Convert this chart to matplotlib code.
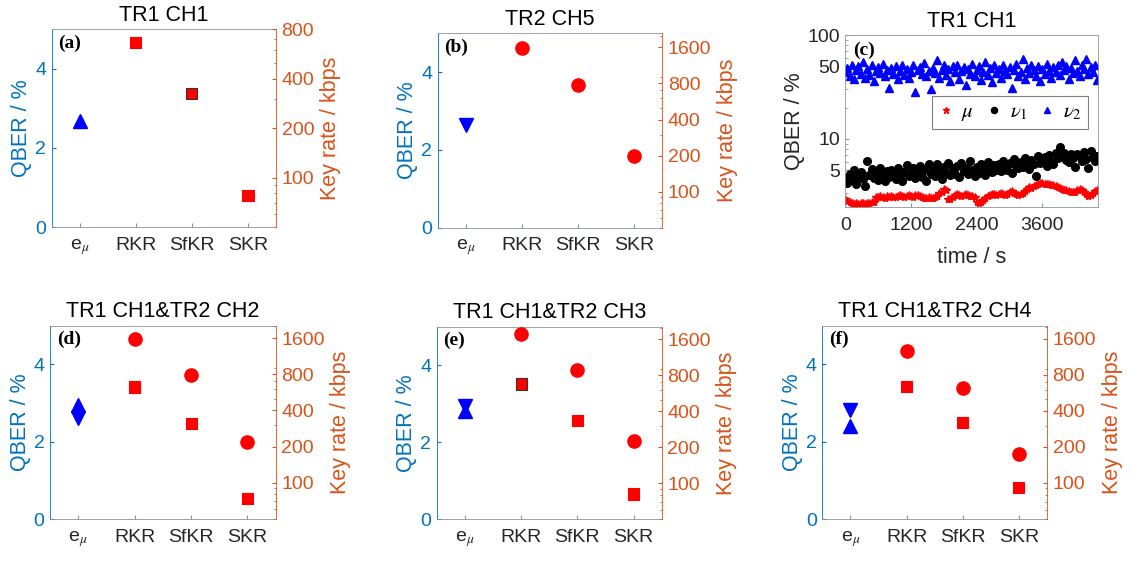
import numpy as np
import matplotlib.pyplot as plt
from matplotlib.ticker import NullFormatter, LogLocator

plt.rcParams['font.family'] = ['Liberation Sans', 'DejaVu Sans']
plt.rcParams['mathtext.fontset'] = 'stix'

BLUE = '#0072BD'
ORANGE = '#D95319'
GREY = '#262626'
BOXC = '#8a94a0'

# ---- category panels (a), (b), (d), (e), (f) ----
categories = ['e$_{\\mu}$', 'RKR', 'SfKR', 'SKR']
titles = ['TR1 CH1', 'TR2 CH5', 'TR1 CH1&TR2 CH2', 'TR1 CH1&TR2 CH3', 'TR1 CH1&TR2 CH4']
tags = ['(a)', '(b)', '(d)', '(e)', '(f)']
qber_tr1 = [2.67, np.nan, 2.95, 2.81, 2.40]   # up triangle
qber_tr2 = [np.nan, 2.65, 2.60, 2.93, 2.82]   # down triangle
rate_circle = [[np.nan, np.nan, np.nan], [1570, 780, 200], [1580, 791, 218],
               [1760, 880, 227], [1255, 622, 174]]
rate_square = [[664, 324, 78], [np.nan, np.nan, np.nan], [627, 314, 74],
               [675, 335, 81], [640, 321, 91]]
square_edge = [['r', '#333333', 'r'], ['r', 'r', 'r'], ['r', 'r', 'r'],
               ['#333333', 'r', 'r'], ['r', 'r', 'r']]
rate_ticks = [[100, 200, 400, 800], [100, 200, 400, 800, 1600], [100, 200, 400, 800, 1600],
              [100, 200, 400, 800, 1600], [100, 200, 400, 800, 1600]]
rate_top = [800, 2100, 2030, 2040, 2060]

# ---- panel (c): QBER vs time ----
t_sec = np.arange(0, 4601, 40)
qber_mu = [2.62, 2.55, 2.45, 2.4, 2.38, 2.42, 2.36, 2.4, 2.44, 2.38,
           2.42, 2.4, 2.45, 2.5, 2.78, 2.74, 2.8, 2.76, 2.72, 2.8,
           2.76, 2.82, 2.78, 2.74, 2.8, 2.86, 2.82, 2.78, 2.84, 2.88,
           2.82, 2.78, 2.86, 2.92, 2.84, 2.78, 2.72, 2.7, 2.76, 2.72,
           2.68, 2.74, 2.85, 3.0, 3.1, 3.3, 3.2, 2.62, 2.66, 2.76,
           2.86, 2.95, 2.9, 2.84, 2.92, 2.98, 2.88, 2.8, 2.84, 2.78,
           2.5, 2.4, 2.48, 2.6, 2.72, 2.82, 2.9, 2.98, 2.94, 2.9,
           2.96, 3.02, 2.94, 2.88, 2.98, 3.1, 3.15, 3.05, 2.95, 2.9,
           2.98, 3.05, 3.15, 3.3, 3.45, 3.4, 3.5, 3.6, 3.7, 3.75,
           3.8, 3.72, 3.66, 3.7, 3.62, 3.58, 3.5, 3.44, 3.38, 3.32,
           3.26, 3.2, 3.15, 3.12, 3.08, 3.1, 3.2, 3.28, 3.22, 3.1,
           2.95, 2.85, 2.9, 3.0, 3.15, 3.25]
qber_nu1 = [4.2, 3.8, 4.6, 4.0, 5.0, 3.7, 4.4, 4.8, 4.1, 3.5,
            6.2, 4.5, 5.1, 4.2, 4.7, 4.0, 5.3, 4.4, 3.9, 4.9,
            4.3, 5.0, 4.6, 4.1, 5.2, 4.5, 3.9, 4.8, 5.6, 4.4,
            4.7, 5.3, 4.2, 4.9, 5.5, 4.3, 5.0, 3.9, 5.7, 4.6,
            5.1, 4.4, 5.8, 4.8, 4.1, 5.4, 4.7, 5.9, 4.5, 5.2,
            4.6, 5.5, 4.3, 5.9, 4.9, 5.3, 4.6, 6.1, 5.0, 4.4,
            5.4, 4.7, 5.8, 5.1, 4.5, 6.0, 5.3, 4.8, 5.6, 5.0,
            5.7, 4.9, 6.2, 5.3, 5.0, 5.9, 4.7, 6.4, 5.5, 5.2,
            6.0, 5.4, 6.6, 5.7, 5.1, 6.3, 5.8, 4.4, 6.8, 5.9,
            6.1, 6.7, 5.5, 7.0, 6.2, 5.8, 7.3, 6.5, 8.3, 6.9,
            7.4, 6.3, 6.0, 7.1, 6.6, 5.4, 7.2, 6.8, 6.1, 7.5,
            6.4, 5.3, 7.6, 6.7, 6.2, 6.9]
qber_nu2 = [44, 48, 40, 52, 38, 46, 50, 42, 55, 39,
            47, 41, 51, 36, 45, 49, 43, 53, 40, 46,
            31, 48, 42, 50, 38, 45, 52, 41, 47, 39,
            44, 51, 28, 46, 49, 42, 54, 40, 45, 30,
            48, 43, 58, 39, 46, 51, 41, 47, 36, 50,
            44, 52, 38, 45, 49, 33, 47, 42, 53, 40,
            46, 50, 37, 44, 55, 41, 48, 35, 51, 43,
            47, 39, 52, 45, 42, 49, 31, 46, 53, 40,
            44, 59, 38, 48, 43, 51, 46, 40, 50, 36,
            47, 42, 53, 45, 39, 49, 44, 52, 41, 55,
            46, 50, 38, 48, 43, 57, 45, 40, 51, 47,
            59, 42, 49, 44, 52, 37]

W, H = 1132, 561
fig = plt.figure(figsize=(W / 100, H / 100), dpi=100)


def add_axes(l, t, r, b):
    return fig.add_axes([l / W, 1 - b / H, (r - l) / W, (b - t) / H])


boxes = [(51.7, 29.3, 276, 227), (437.7, 33.3, 662.3, 227.7),
         (50, 325.7, 275.7, 519), (436.7, 326.7, 661.7, 519), (822.3, 325.7, 1047, 519)]

x = np.arange(1, 5)
for i in range(5):
    ax = add_axes(*boxes[i])
    ax2 = ax.twinx()
    ax.set_xlim(0.5, 4.5)
    ax.set_ylim(0, 5)
    ax.set_yticks([0, 2, 4])
    ax.set_xticks(x, categories)
    ax.plot([1], [qber_tr1[i]], marker='^', ms=10.5, color='#0000FF', ls='none')
    ax.plot([1], [qber_tr2[i]], marker='v', ms=10.5, color='#0000FF', ls='none')
    ax.set_ylabel('QBER / %', color=BLUE, fontsize=15.5, labelpad=2)
    ax.set_title(titles[i], fontsize=15.5, pad=6)
    ax.text(0.03, 0.93, tags[i], transform=ax.transAxes, fontsize=14, fontweight='bold',
            family='Liberation Serif', va='center', ha='left')

    ax2.set_yscale('log')
    ax2.set_ylim(50, rate_top[i])
    ax2.plot(x[1:], rate_circle[i], marker='o', ms=9.5, color='red', ls='none')
    ax2.scatter(x[1:], rate_square[i], marker='s', s=8 ** 2, c='red',
                edgecolors=square_edge[i], linewidths=0.8, zorder=3)
    ax2.set_yticks(rate_ticks[i], [str(v) for v in rate_ticks[i]])
    ax2.yaxis.set_minor_locator(LogLocator(subs=np.arange(2, 10)))
    ax2.yaxis.set_minor_formatter(NullFormatter())
    ax2.set_ylabel('Key rate / kbps', color=ORANGE, fontsize=15.5, labelpad=4)

    ax.tick_params(axis='x', direction='in', length=3, colors=GREY, labelsize=14, pad=7,
                   color=BOXC)
    ax.tick_params(axis='y', direction='in', length=3, colors=BLUE, labelsize=14, pad=4)
    ax2.tick_params(axis='y', which='both', direction='in', colors=ORANGE, labelsize=14, pad=4)
    ax2.tick_params(axis='y', which='major', length=3)
    ax2.tick_params(axis='y', which='minor', length=1.8)
    for s in ['top', 'bottom']:
        ax.spines[s].set_color(BOXC)
        ax.spines[s].set_linewidth(0.6)
        ax2.spines[s].set_visible(False)
    ax.spines['left'].set_color(BLUE)
    ax.spines['left'].set_linewidth(0.6)
    ax.spines['right'].set_visible(False)
    ax2.spines['left'].set_visible(False)
    ax2.spines['right'].set_color(ORANGE)
    ax2.spines['right'].set_linewidth(0.6)

# panel (c)
axc = add_axes(845.3, 35, 1097.7, 207.3)
axc.plot(t_sec, qber_mu, ls='none', marker='*', ms=6, color='red', label='$\\mu$')
axc.plot(t_sec, qber_nu1, ls='none', marker='o', ms=5.5, color='black', label='$\\nu_1$')
axc.plot(t_sec, qber_nu2, ls='none', marker='^', ms=6, color='#0000FF', label='$\\nu_2$')
axc.set_yscale('log')
axc.set_ylim(2.2, 100)
axc.set_xlim(0, 4610)
axc.set_xticks([0, 1200, 2400, 3600])
axc.set_yticks([5, 10, 50, 100], ['5', '10', '50', '100'])
axc.yaxis.set_minor_locator(LogLocator(subs=np.arange(2, 10)))
axc.yaxis.set_minor_formatter(NullFormatter())
axc.tick_params(axis='both', which='both', direction='in', colors=GREY, labelsize=14,
                color=BOXC)
axc.tick_params(axis='both', which='major', length=3)
axc.tick_params(axis='y', which='minor', length=1.8)
axc.tick_params(axis='x', pad=7)
for s in axc.spines.values():
    s.set_color(BOXC)
    s.set_linewidth(0.6)
axc.set_xlabel('time / s', fontsize=15.5, color=GREY, labelpad=9)
axc.set_ylabel('QBER / %', fontsize=15.5, color=GREY, labelpad=2)
axc.set_title('TR1 CH1', fontsize=15.5, pad=6)
axc.text(0.03, 0.91, '(c)', transform=axc.transAxes, fontsize=14, fontweight='bold',
         family='Liberation Serif', va='center', ha='left')
leg = axc.legend(ncol=3, loc='center', bbox_to_anchor=(0.652, 0.55), fontsize=15,
                 handlelength=0.7, handletextpad=0.4, columnspacing=0.6, borderpad=0.3,
                 fancybox=False, edgecolor='#808080', framealpha=1, markerscale=0.8)
leg.get_frame().set_linewidth(0.8)

fig.savefig('out.png', dpi=100)
